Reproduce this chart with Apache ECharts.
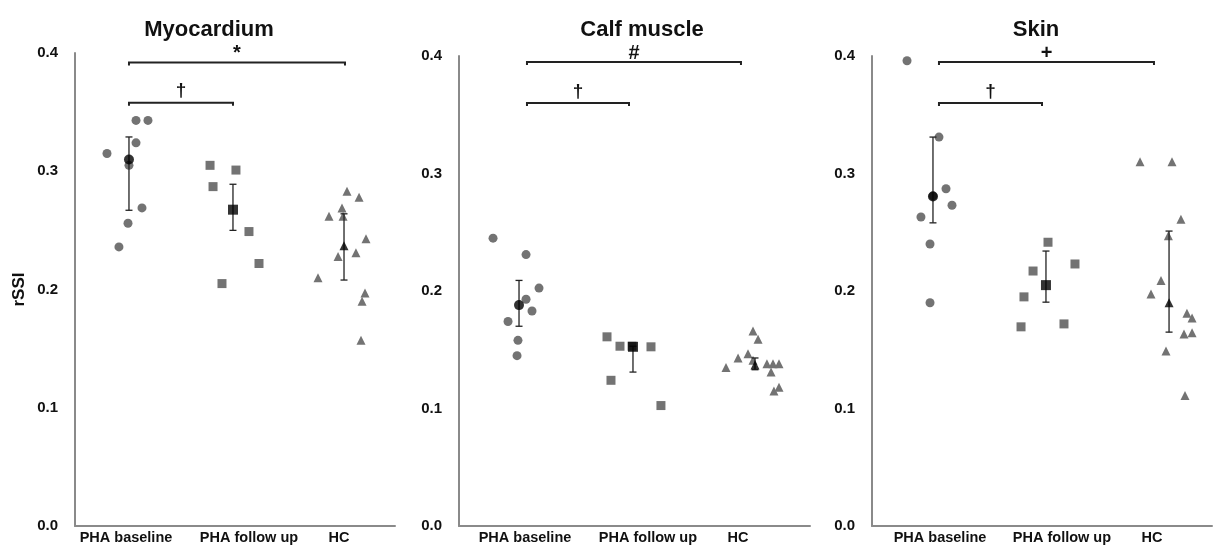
<!DOCTYPE html>
<html>
<head>
<meta charset="utf-8">
<script src="https://cdn.jsdelivr.net/npm/echarts@6/dist/echarts.min.js"></script>
<style>
html,body{margin:0;padding:0;background:#fff;}
#chart{width:1214px;height:545px;}
</style>
</head>
<body>
<div id="chart"></div>
<script>
// ---------- data ----------
const categories = ['PHA baseline', 'PHA follow up', 'HC'];
const panelTitles = ['Myocardium', 'Calf muscle', 'Skin'];
const yTicks = [0.0, 0.1, 0.2, 0.3, 0.4];
const yAxisTitle = 'rSSI';

// individual values: [group position with jitter, rSSI]
const myoBaseline = [[1.072,0.343],[1.184,0.343],[1.072,0.324],[0.800,0.315],[1.006,0.305],[1.128,0.269],[0.997,0.256],[0.912,0.236]];
const myoFollowUp = [[1.766,0.305],[2.009,0.301],[1.794,0.287],[2.131,0.249],[2.225,0.222],[1.878,0.205]];
const myoHC = [[3.050,0.283],[3.163,0.278],[3.003,0.269],[2.881,0.262],[3.013,0.262],[3.228,0.243],[3.134,0.231],[2.966,0.228],[2.778,0.210],[3.219,0.197],[3.191,0.190],[3.181,0.157]];
const myoMean = [[1.006,0.310],[1.981,0.2675],[3.022,0.237]];
const myoLow = [0.267, 0.250, 0.208];
const myoHigh = [0.329, 0.289, 0.264];

const calfBaseline = [[0.791,0.245],[1.073,0.231],[1.184,0.2025],[1.073,0.193],[1.124,0.183],[0.919,0.174],[1.004,0.158],[0.996,0.145]];
const calfFollowUp = [[1.765,0.161],[1.876,0.153],[2.141,0.1525],[1.979,0.153],[1.799,0.124],[2.226,0.1025]];
const calfHC = [[3.013,0.166],[3.056,0.159],[2.970,0.1465],[2.885,0.143],[3.013,0.141],[2.782,0.135],[3.132,0.138],[3.184,0.138],[3.235,0.138],[3.167,0.131],[3.235,0.118],[3.192,0.115]];
const calfMean = [[1.013,0.188],[1.987,0.1525],[3.030,0.137]];
const calfLow = [0.170, 0.131, 0.133];
const calfHigh = [0.209, 0.153, 0.143];

const skinBaseline = [[0.809,0.396],[1.091,0.331],[1.153,0.287],[1.206,0.273],[0.932,0.263],[1.038,0.281],[1.012,0.240],[1.012,0.190]];
const skinFollowUp = [[2.053,0.2415],[2.291,0.223],[1.921,0.217],[1.841,0.195],[1.815,0.1695],[2.194,0.172]];
const skinHC = [[2.865,0.310],[3.147,0.310],[3.226,0.261],[3.115,0.247],[3.050,0.209],[2.962,0.1975],[3.279,0.181],[3.324,0.177],[3.253,0.1635],[3.324,0.1645],[3.094,0.149],[3.262,0.111]];
const skinMean = [[1.038,0.2805],[2.035,0.205],[3.121,0.190]];
const skinLow = [0.258, 0.1905, 0.165];
const skinHigh = [0.331, 0.234, 0.251];

// significance brackets: [from, level, to]
const myoBrackets = [[1.006,0.358,1.981],[1.006,0.392,3.031]];
const myoMarks = ['†','*'];
const calfBrackets = [[1.081,0.360,1.953],[1.081,0.395,2.910]];
const calfMarks = ['†','#'];
const skinBrackets = [[1.091,0.360,2.000],[1.091,0.395,2.988]];
const skinMarks = ['†','+'];

// ---------- layout ----------
const FONT = 'Liberation Sans, Arial, sans-serif';
const GRAY = '#737373';
const grids = [
  {left:75, top:53, width:320, height:474},
  {left:459, top:56, width:351, height:472},
  {left:872, top:56, width:340, height:472}
];
const titleX = [204, 637, 1031];
const labelPos = [[0.978,2.131,2.975],[1.064,2.115,2.885],[1.100,2.176,2.971]];
const markLift = {'†': 2, '*': -1, '#': -2, '+': -2};

const panels = [
  {base:myoBaseline, fu:myoFollowUp, hc:myoHC, mean:myoMean, low:myoLow, high:myoHigh, br:myoBrackets, marks:myoMarks},
  {base:calfBaseline, fu:calfFollowUp, hc:calfHC, mean:calfMean, low:calfLow, high:calfHigh, br:calfBrackets, marks:calfMarks},
  {base:skinBaseline, fu:skinFollowUp, hc:skinHC, mean:skinMean, low:skinLow, high:skinHigh, br:skinBrackets, marks:skinMarks}
];

const chart = echarts.init(document.getElementById('chart'), null, {renderer:'canvas'});

const xAxes = [], yAxes = [], series = [], titles = [];
panels.forEach((p, i) => {
  titles.push({
    text: panelTitles[i], left: titleX[i], top: 14, textAlign: 'center',
    textStyle: {fontFamily: FONT, fontSize: 22, fontWeight: 'bold', color: '#111'}
  });
  xAxes.push({
    type: 'value', gridIndex: i, min: 0.5, max: 3.5,
    splitLine: {show: false},
    axisLine: {show: true, onZero: false, lineStyle: {color: '#8a8a8a', width: 2}},
    axisTick: {show: false},
    axisLabel: {
      show: true, customValues: labelPos[i], margin: 4,
      fontFamily: FONT, fontSize: 14.5, fontWeight: 'bold', color: '#111',
      formatter: v => categories[Math.round(v) - 1]
    }
  });
  yAxes.push({
    type: 'value', gridIndex: i, min: yTicks[0], max: yTicks[yTicks.length-1], interval: 0.1,
    splitLine: {show: false},
    axisLine: {show: true, lineStyle: {color: '#8a8a8a', width: 2}},
    axisTick: {show: false},
    axisLabel: {margin: 17, fontFamily: FONT, fontSize: 15, fontWeight: 'bold', color: '#111',
      formatter: v => v.toFixed(1)},
    name: i === 0 ? yAxisTitle : '',
    nameLocation: 'middle', nameRotate: 90, nameGap: 47,
    nameTextStyle: {fontFamily: FONT, fontSize: 17, fontWeight: 'bold', color: '#111'}
  });

  const groups = [[p.base, 'circle', 9], [p.fu, 'rect', 9], [p.hc, 'triangle', 9]];
  groups.forEach(g => {
    series.push({
      type: 'scatter', xAxisIndex: i, yAxisIndex: i, data: g[0],
      symbol: g[1], symbolSize: g[2], itemStyle: {color: GRAY, opacity: 1}, z: 2
    });
  });
  // error bars
  series.push({
    type: 'custom', xAxisIndex: i, yAxisIndex: i, z: 3,
    data: p.mean.map((m, k) => [m[0], p.low[k], p.high[k]]),
    encode: {x: 0, y: [1, 2]},
    renderItem: (params, api) => {
      const x = api.value(0);
      const a = api.coord([x, api.value(1)]);
      const b = api.coord([x, api.value(2)]);
      const w = 3.5;
      const st = {stroke: '#222', lineWidth: 1.3};
      return {type: 'group', children: [
        {type: 'line', shape: {x1: a[0], y1: a[1], x2: b[0], y2: b[1]}, style: st},
        {type: 'line', shape: {x1: a[0]-w, y1: a[1], x2: a[0]+w, y2: a[1]}, style: st},
        {type: 'line', shape: {x1: b[0]-w, y1: b[1], x2: b[0]+w, y2: b[1]}, style: st}
      ]};
    }
  });
  // means
  const meanSym = ['circle', 'rect', 'triangle'];
  const meanSize = [10, 10, 9];
  p.mean.forEach((m, k) => {
    series.push({
      type: 'scatter', xAxisIndex: i, yAxisIndex: i, data: [m],
      symbol: meanSym[k], symbolSize: meanSize[k], itemStyle: {color: '#000'}, z: 4
    });
  });
  // brackets
  series.push({
    type: 'custom', xAxisIndex: i, yAxisIndex: i, z: 3,
    data: p.br, encode: {x: [0, 2], y: 1},
    renderItem: (params, api) => {
      const a = api.coord([api.value(0), api.value(1)]);
      const b = api.coord([api.value(2), api.value(1)]);
      const t = 3;
      const mark = p.marks[params.dataIndex];
      const isDagger = mark === '†';
      return {type: 'group', children: [
        {type: 'polyline', shape: {points: [[a[0], a[1]+t], a, b, [b[0], b[1]+t]]},
         style: {stroke: '#222', lineWidth: 2, fill: null}},
        {type: 'text', x: (a[0]+b[0])/2, y: a[1] - markLift[mark],
         style: {text: mark, fontFamily: FONT, fontSize: isDagger ? 19 : 20, fontWeight: 'bold',
           fill: '#111', align: 'center', verticalAlign: 'bottom'}}
      ]};
    }
  });
});

chart.setOption({
  animation: false,
  backgroundColor: '#fff',
  title: titles,
  grid: grids,
  xAxis: xAxes,
  yAxis: yAxes,
  series: series
});
</script>
</body>
</html>
